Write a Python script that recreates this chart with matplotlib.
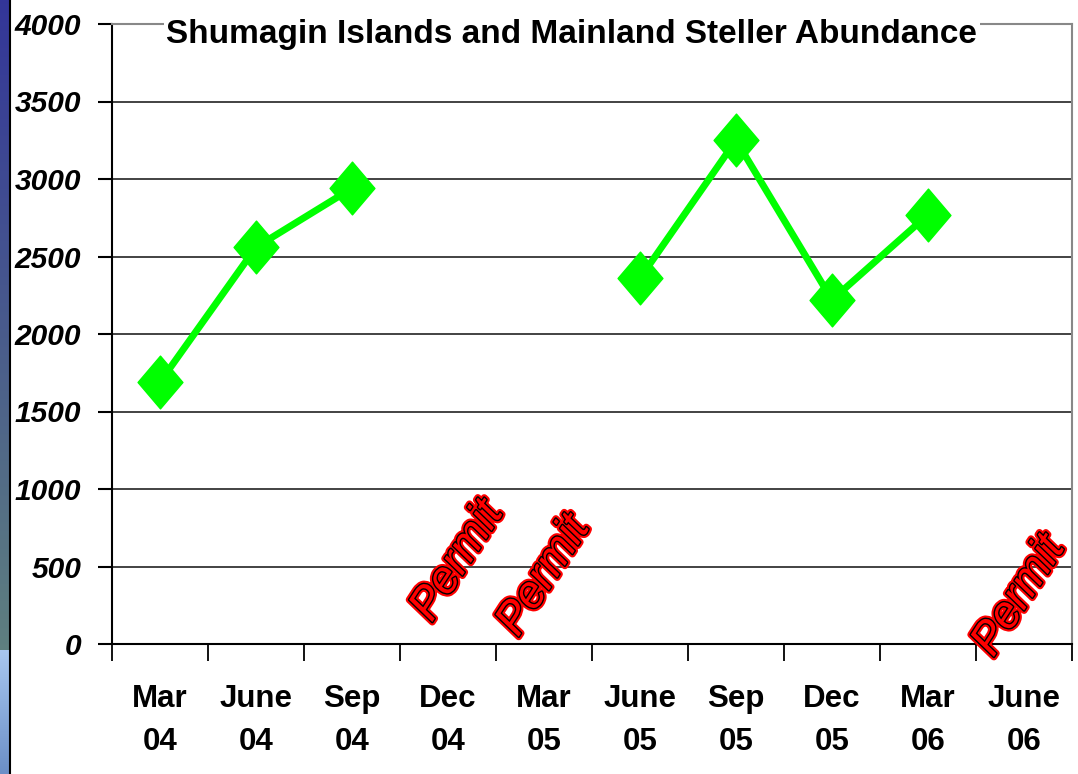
import numpy as np
import matplotlib
matplotlib.use("Agg")
import matplotlib.pyplot as plt
import matplotlib.patheffects as pe
from matplotlib.path import Path

# data
categories = ["Mar\n04", "June\n04", "Sep\n04", "Dec\n04", "Mar\n05",
              "June\n05", "Sep\n05", "Dec\n05", "Mar\n06", "June\n06"]
abundance  = [1690, 2560, 2940, np.nan, np.nan, 2360, 3250, 2220, 2770, np.nan]

# "Permit" notes where no survey was flown
permit_pos = [3.1, 4.0, 8.95]
permit_y   = [535, 440, 310]

title = "Shumagin Islands and Mainland Steller Abundance"
yticks = [0, 500, 1000, 1500, 2000, 2500, 3000, 3500, 4000]

plt.rcParams['font.family'] = ['Liberation Sans', 'DejaVu Sans']

fig = plt.figure(figsize=(10.78, 7.74), dpi=100)

# slide background strip on the left edge
strip = fig.add_axes([0, 0, 9 / 1078, 1])
grad = np.vstack([
    np.linspace([0.20, 0.21, 0.60], [0.37, 0.50, 0.50], 650),
    np.linspace([0.66, 0.78, 0.94], [0.42, 0.56, 0.78], 124),
])
strip.imshow(grad[:, None, :], aspect='auto', extent=[0, 1, 0, 1])
strip.axis('off')
fig.add_artist(plt.Line2D([9.5 / 1078] * 2, [0, 1], color='black', lw=1.5,
                          transform=fig.transFigure))

ax = fig.add_axes([112 / 1078, 130 / 774, 960 / 1078, 620 / 774])

x = np.arange(len(categories))

# taller-than-wide diamond, like the stretched slide
diamond = Path([(0, 1), (0.85, 0), (0, -1), (-0.85, 0), (0, 1)],
               [Path.MOVETO, Path.LINETO, Path.LINETO, Path.LINETO, Path.CLOSEPOLY])
ax.plot(x, abundance, color='#00ff00', lw=5, marker=diamond, markersize=38,
        markeredgecolor='#00ff00', zorder=3)

for px, py in zip(permit_pos, permit_y):
    ax.text(px, py, "Permit", rotation=57, color='red', fontsize=33,
            fontstyle='italic', ha='center', va='center',
            clip_on=False, zorder=4,
            path_effects=[pe.Stroke(linewidth=5, foreground='red'),
                          pe.Stroke(linewidth=2, foreground='black'),
                          pe.Normal()])

ax.set_xlim(-0.5, len(categories) - 0.5)
ax.set_ylim(0, 4000)
ax.set_yticks(yticks)
ax.set_yticklabels([str(v) for v in yticks], fontsize=21.5,
                   fontweight='bold', fontstyle='italic')
ax.yaxis.grid(True, color='#222222', lw=1.2)
ax.set_axisbelow(True)

ax.set_xticks(x)
ax.set_xticklabels(categories, fontsize=22.5, fontweight='bold',
                   linespacing=1.55)
ax.set_xticks(np.arange(len(categories) + 1) - 0.5, minor=True)
ax.tick_params(axis='x', which='major', length=0, pad=29)
ax.tick_params(axis='x', which='minor', length=12, width=1.3, color='black')
ax.tick_params(axis='y', length=10, width=1.5, pad=12, color='black')

for side in ['left', 'bottom']:
    ax.spines[side].set_color('black')
    ax.spines[side].set_linewidth(1.5)
for side in ['top', 'right']:
    ax.spines[side].set_color('#888888')
    ax.spines[side].set_linewidth(1.5)

ax.text(0.479, 0.983, title, transform=ax.transAxes, ha='center', va='center',
        fontsize=24, fontweight='bold', zorder=5,
        bbox=dict(facecolor='white', edgecolor='none', pad=2))

fig.savefig("out.png", dpi=100)
